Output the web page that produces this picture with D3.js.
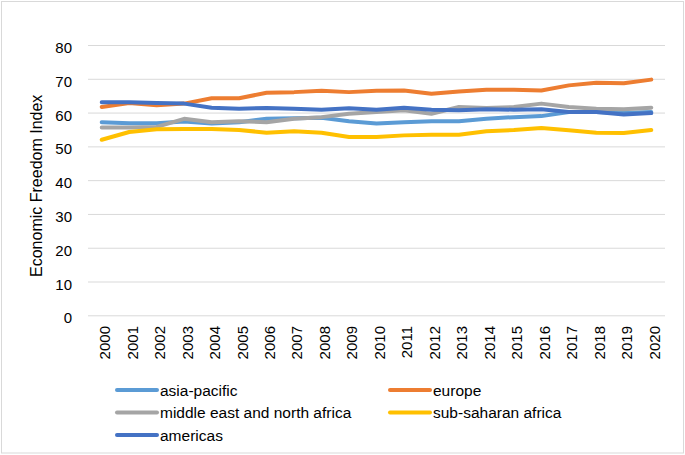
<!DOCTYPE html>
<html><head><meta charset="utf-8">
<script src="https://cdn.jsdelivr.net/npm/d3@7"></script>
<style>body{margin:0;background:#fff}svg{display:block}text{font-family:"Liberation Sans",Arial,sans-serif;fill:#000}</style>
</head><body>
<svg id="c" width="685" height="455"></svg>
<script>
const years = ["2000","2001","2002","2003","2004","2005","2006","2007","2008","2009","2010","2011","2012","2013","2014","2015","2016","2017","2018","2019","2020"];
const asiaPacific = [57.3,57.0,57.0,57.5,56.9,57.3,58.3,58.5,58.6,57.6,56.9,57.3,57.6,57.6,58.3,58.8,59.1,60.3,60.3,60.0,60.3];
const europe = [61.8,63.0,62.3,62.8,64.4,64.4,66.0,66.2,66.6,66.2,66.6,66.7,65.7,66.4,66.9,66.9,66.7,68.2,69.0,68.8,69.9];
const middleEast = [55.7,55.7,55.9,58.3,57.3,57.6,57.3,58.3,58.8,59.8,60.3,60.8,59.8,61.8,61.5,61.8,62.8,61.8,61.3,61.1,61.6];
const subSaharan = [52.1,54.4,55.2,55.3,55.3,55.0,54.2,54.6,54.2,52.9,52.9,53.4,53.6,53.6,54.6,55.0,55.6,54.9,54.2,54.1,55.0];
const americas = [63.2,63.2,63.0,62.8,61.6,61.3,61.5,61.3,61.0,61.4,61.0,61.6,61.0,60.8,61.1,61.0,61.1,60.3,60.3,59.6,60.0];
const yTicks = [0,10,20,30,40,50,60,70,80];
const seriesNames = ["asia-pacific","europe","middle east and north africa","sub-saharan africa","americas"];
const seriesValues = [asiaPacific, europe, middleEast, subSaharan, americas];
const colors = ["#5B9BD5","#ED7D31","#A5A5A5","#FFC000","#4472C4"];

const svg = d3.select("#c");
svg.append("rect").attr("x",1.5).attr("y",1.5).attr("width",682).attr("height",451.5)
  .attr("fill","#fff").attr("stroke","#d9d9d9").attr("stroke-width",1);

const pLeft = 88, pRight = 665, pTop = 45.5, pBottom = 315.8;
const x = d3.scaleBand().domain(years).range([pLeft,pRight]);
const y = d3.scaleLinear().domain([0,80]).range([pBottom,pTop]);

// gridlines
svg.append("g").selectAll("line").data(yTicks.filter(d=>d>0)).join("line")
  .attr("x1",pLeft).attr("x2",pRight).attr("y1",d=>y(d)).attr("y2",d=>y(d))
  .attr("stroke","#d9d9d9").attr("stroke-width",1);
// x-axis line
svg.append("line").attr("x1",pLeft).attr("x2",pRight).attr("y1",y(0)).attr("y2",y(0))
  .attr("stroke","#d9d9d9").attr("stroke-width",1);

// y tick labels
svg.append("g").selectAll("text").data(yTicks).join("text")
  .attr("x",72).attr("y",d=>y(d)).attr("dy","0.5em")
  .attr("text-anchor","end").style("font-size","15px").text(d=>d);

// x tick labels
svg.append("g").selectAll("text").data(years).join("text")
  .attr("transform",d=>`translate(${x(d)+x.bandwidth()/2},326) rotate(-90)`)
  .attr("dy",8.4).attr("text-anchor","end").style("font-size","15px").text(d=>d);

// y axis title
svg.append("text").attr("transform","translate(41.5,185.8) rotate(-90)")
  .attr("text-anchor","middle").style("font-size","16px").text("Economic Freedom Index");

// lines
const line = d3.line().x((d,i)=>x(years[i])+x.bandwidth()/2).y(d=>y(d));
svg.append("g").selectAll("path").data(seriesValues).join("path")
  .attr("d",line).attr("fill","none").attr("stroke",(d,i)=>colors[i])
  .attr("stroke-width",4).attr("stroke-linejoin","round").attr("stroke-linecap","round");

// legend
const legPos = [[117,390],[390,390],[117,412.5],[390,412.5],[117,435]];
const lg = svg.append("g").selectAll("g").data(seriesNames).join("g")
  .attr("transform",(d,i)=>`translate(${legPos[i][0]},${legPos[i][1]})`);
lg.append("line").attr("x1",0).attr("x2",40).attr("y1",0).attr("y2",0)
  .attr("stroke",(d,i)=>colors[i]).attr("stroke-width",4).attr("stroke-linecap","round");
lg.append("text").attr("x",43).attr("dy","0.36em").style("font-size","15.5px").text(d=>d);
</script>
</body></html>
